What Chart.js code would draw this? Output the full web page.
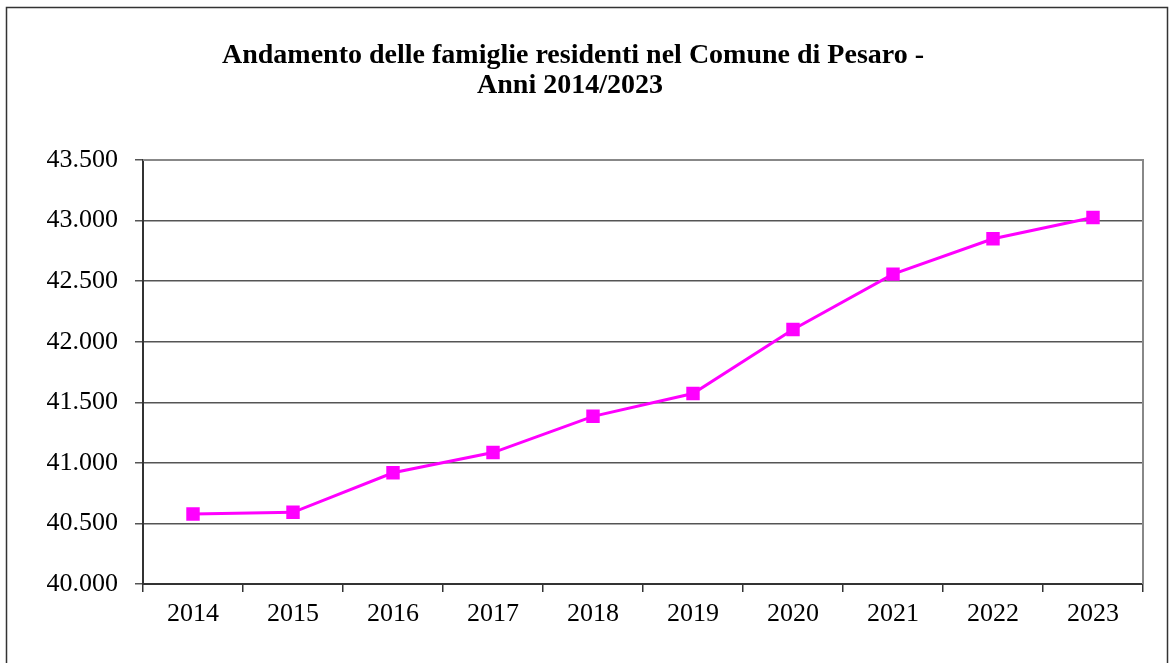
<html>
<head>
<title>Famiglie residenti Pesaro</title>
<script src="https://cdn.jsdelivr.net/npm/chart.js@4.4.1/dist/chart.umd.min.js"></script>
<style>
    body { margin: 0; background: white; }
    #wrap { position: relative; width: 1171px; height: 663px; }
</style>
</head>
<body>
<div id="wrap"><canvas id="chart" width="1171" height="663"></canvas></div>
<script>
    var titleLines = ["Andamento delle famiglie residenti nel Comune di Pesaro -", "Anni 2014/2023"];
    var years = ["2014", "2015", "2016", "2017", "2018", "2019", "2020", "2021", "2022", "2023"];
    var famiglie = [40578, 40592, 40918, 41085, 41384, 41572, 42101, 42558, 42850, 43025];
    var yMin = 40000, yMax = 43500, yStep = 500;

    function formatIt(v) {
        return String(v).replace(/\B(?=(\d{3})+(?!\d))/g, ".");
    }

    var framePlugin = {
        id: 'frame',
        beforeDraw: function (chart) {
            var ctx = chart.ctx;
            ctx.save();
            ctx.fillStyle = 'white';
            ctx.fillRect(0, 0, chart.width, chart.height);
            ctx.strokeStyle = '#333';
            ctx.lineWidth = 1.5;
            ctx.strokeRect(6.5, 7.5, 1161, 700);
            ctx.fillStyle = '#000';
            ctx.font = 'bold 28px "Liberation Serif", "Times New Roman", serif';
            ctx.textAlign = 'center';
            ctx.textBaseline = 'alphabetic';
            ctx.fillText(titleLines[0], 573, 63);
            ctx.fillText(titleLines[1], 570, 93);
            ctx.restore();
        },
        beforeDatasetsDraw: function (chart) {
            var a = chart.chartArea, ctx = chart.ctx;
            ctx.save();
            ctx.strokeStyle = '#888';
            ctx.lineWidth = 2;
            ctx.beginPath();
            ctx.moveTo(a.left, a.top);
            ctx.lineTo(a.right, a.top);
            ctx.lineTo(a.right, a.bottom);
            ctx.stroke();
            ctx.restore();
        }
    };

    var ctx = document.getElementById("chart").getContext("2d");
    new Chart(ctx, {
        type: 'line',
        data: {
            labels: years,
            datasets: [{
                label: 'Famiglie residenti',
                data: famiglie,
                borderColor: '#FF00FF',
                backgroundColor: '#FF00FF',
                borderWidth: 3,
                pointStyle: 'rect',
                pointRadius: 9.5,
                pointBorderWidth: 0,
                tension: 0
            }]
        },
        options: {
            responsive: false,
            animation: false,
            layout: { padding: { top: 160, left: 0, right: 28, bottom: 0 } },
            plugins: {
                legend: { display: false },
                title: { display: false },
                tooltip: { enabled: false }
            },
            scales: {
                x: {
                    offset: true,
                    grid: { offset: true, drawOnChartArea: false, drawTicks: true, tickLength: 8, color: '#333', lineWidth: 1.5 },
                    border: { color: '#333', width: 2 },
                    ticks: { color: '#000', padding: 7, font: { family: '"Liberation Serif", "Times New Roman", serif', size: 26 } },
                    afterFit: function (s) { s.height = 79; }
                },
                y: {
                    min: yMin,
                    max: yMax,
                    ticks: {
                        stepSize: yStep,
                        color: '#000',
                        padding: 17,
                        font: { family: '"Liberation Serif", "Times New Roman", serif', size: 26 },
                        callback: function (v) { return formatIt(v); }
                    },
                    grid: { color: '#555', lineWidth: 1.5, tickLength: 8 },
                    border: { color: '#333', width: 2 },
                    afterFit: function (s) { s.width = 143; }
                }
            }
        },
        plugins: [framePlugin]
    });
</script>
</body>
</html>
